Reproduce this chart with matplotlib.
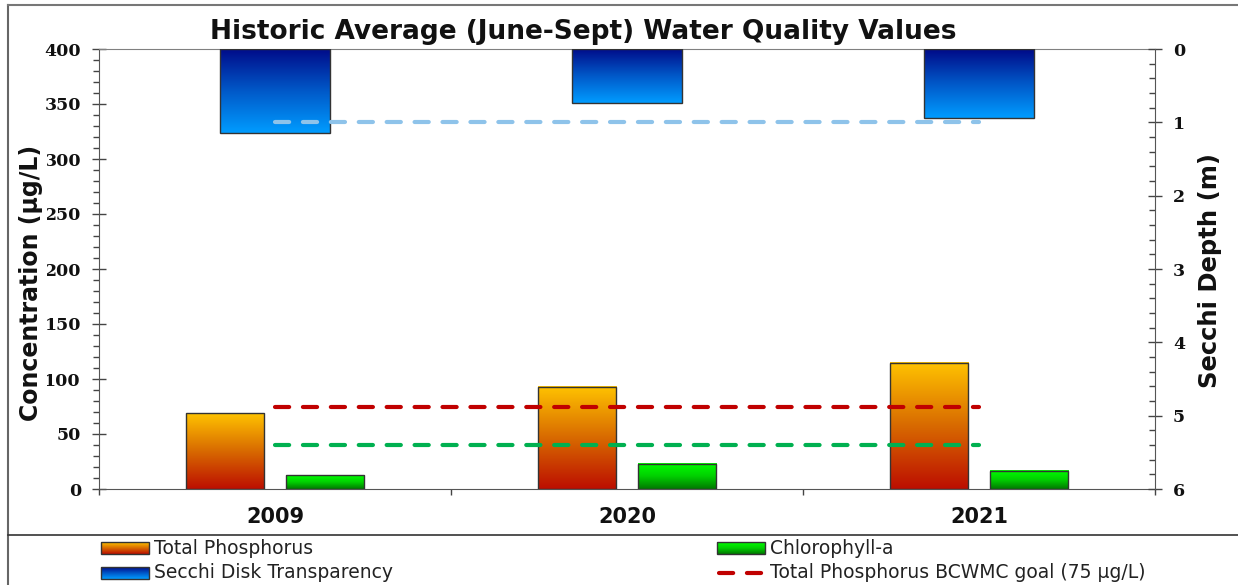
import numpy as np
import matplotlib
matplotlib.use('Agg')
import matplotlib.pyplot as plt
from matplotlib.colors import LinearSegmentedColormap
from matplotlib.lines import Line2D
from matplotlib.ticker import MultipleLocator, FixedLocator, NullFormatter

# data
years = ['2009', '2020', '2021']
total_phosphorus = [69, 93, 115]      # ug/L
chlorophyll = [12.7, 23, 16.5]        # ug/L
secchi = [1.15, 0.74, 0.94]           # m
tp_goal = 75
chl_goal = 40
secchi_goal = 1.0

title = 'Historic Average (June-Sept) Water Quality Values'
legend_labels = ['Total Phosphorus', 'Chlorophyll-a',
                 'Secchi Disk Transparency', 'Total Phosphorus BCWMC goal (75 \u00b5g/L)']

W, H = 1238, 585

tp_cmap = LinearSegmentedColormap.from_list('tp', ['#BC0E00', '#D86A00', '#FFC300'])
chl_cmap = LinearSegmentedColormap.from_list('chl', ['#007800', '#00D000', '#00FF00'])
sec_cmap = LinearSegmentedColormap.from_list('sec', ['#000A88', '#0058C8', '#009CFF'])
grad = np.linspace(0, 1, 256).reshape(-1, 1)


def gradient_bars(ax, bars, cmap):
    # fill each bar patch with a vertical gradient
    for b in bars:
        x0, w = b.get_x(), b.get_width()
        y0, h = b.get_y(), b.get_height()
        ax.imshow(grad, cmap=cmap, origin='lower', aspect='auto',
                  extent=[x0, x0 + w, y0, y0 + h], zorder=2, interpolation='bilinear')
        b.set_facecolor('none')


fig = plt.figure(figsize=(W / 100, H / 100), dpi=100)
ax = fig.add_axes([99 / W, 1 - 489 / H, (1155 - 99) / W, 440 / H])
ax2 = ax.twinx()

x = np.arange(len(years))
bw = 0.222
off = 0.142

tp_bars = ax.bar(x - off, total_phosphorus, bw, edgecolor='#333333', lw=1, zorder=3)
chl_bars = ax.bar(x + off, chlorophyll, bw, edgecolor='#333333', lw=1, zorder=3)
sec_bars = ax2.bar(x, secchi, 0.313, edgecolor='#333333', lw=1, zorder=3)
gradient_bars(ax, tp_bars, tp_cmap)
gradient_bars(ax, chl_bars, chl_cmap)
gradient_bars(ax2, sec_bars, sec_cmap)

dash = (0, (3.4, 3.3))
ax.plot([x[0], x[-1]], [tp_goal] * 2, color='#C00000', lw=3, ls=dash,
        dash_capstyle='round', zorder=4)
ax.plot([x[0], x[-1]], [chl_goal] * 2, color='#00B050', lw=3, ls=dash,
        dash_capstyle='round', zorder=4)
ax2.plot([x[0], x[-1]], [secchi_goal] * 2, color='#8EC3EA', lw=3, ls=dash,
         dash_capstyle='round', zorder=4)

ax.set_xlim(-0.5, 2.5)
ax.set_ylim(0, 400)
ax2.set_ylim(6, 0)

tick_font = dict(family='DejaVu Serif', weight='bold', size=12.5)
ax.yaxis.set_major_locator(MultipleLocator(50))
ax.yaxis.set_minor_locator(MultipleLocator(10))
ax.tick_params(axis='y', which='major', direction='inout', length=10, width=1,
               color='#444444', pad=8)
ax.tick_params(axis='y', which='minor', direction='out', length=4.5, width=1, color='#444444')
for t in ax.get_yticklabels():
    t.set_fontproperties(tick_font)
    t.set_color('#111111')

ax2.yaxis.set_major_locator(MultipleLocator(1))
ax2.yaxis.set_minor_locator(MultipleLocator(0.2))
ax2.tick_params(axis='y', which='major', direction='inout', length=10, width=1,
                color='#444444', pad=8)
ax2.tick_params(axis='y', which='minor', direction='in', length=4.5, width=1, color='#444444')
for t in ax2.get_yticklabels():
    t.set_fontproperties(tick_font)
    t.set_color('#111111')

ax.xaxis.set_major_locator(FixedLocator([-0.5, 0.5, 1.5, 2.5]))
ax.xaxis.set_major_formatter(NullFormatter())
ax.xaxis.set_minor_locator(FixedLocator(x))
ax.set_xticklabels(years, minor=True, fontsize=15, fontweight='bold')
ax.tick_params(axis='x', which='minor', length=0, pad=13, colors='#111111')
ax.tick_params(axis='x', which='major', direction='out', length=4.5, width=1, color='#444444')

for s in ['left', 'bottom']:
    ax.spines[s].set_color('#555555')
ax.spines['top'].set_color('#808080')
ax.spines['right'].set_visible(False)
ax2.spines['right'].set_color('#555555')
for s in ['left', 'top', 'bottom']:
    ax2.spines[s].set_visible(False)

fig.text(583 / W, 1 - 32 / H, title, ha='center', va='center', fontsize=19,
         fontweight='bold', color='#111111')
fig.text(31 / W, 1 - 283 / H, 'Concentration (\u00b5g/L)', rotation=90, ha='center',
         va='center', fontsize=17, fontweight='bold', color='#111111',
         bbox=dict(facecolor='white', edgecolor='none', pad=2.5))
fig.text(1210 / W, 1 - 270 / H, 'Secchi Depth (m)', rotation=90, ha='center',
         va='center', fontsize=17.5, fontweight='bold', color='#111111')

# frame lines
fig.add_artist(Line2D([8 / W, 8 / W], [0, 1 - 5 / H], transform=fig.transFigure,
                      color='#666666', lw=1.5))
fig.add_artist(Line2D([8 / W, 1], [1 - 5 / H] * 2, transform=fig.transFigure,
                      color='#777777', lw=1.5))
fig.add_artist(Line2D([8 / W, 1], [1 - 535 / H] * 2, transform=fig.transFigure,
                      color='#333333', lw=1.2))

# legend drawn in pixel-like coordinates
lax = fig.add_axes([0, 0, 1, 50 / H])
rows = [548, 573]
cols = [101, 717]
sw, sh = 48, 12
items = [(cols[0], rows[0], tp_cmap, False), (cols[1], rows[0], chl_cmap, False),
         (cols[0], rows[1], sec_cmap, True)]
for (cx, cy, cmap, flip) in items:
    b, t = (cy - sh / 2, cy + sh / 2) if flip else (cy + sh / 2, cy - sh / 2)
    lax.imshow(grad, cmap=cmap, origin='lower', aspect='auto',
               extent=[cx, cx + sw, b, t], interpolation='bilinear')
    lax.add_patch(plt.Rectangle((cx, cy - sh / 2), sw, sh, fill=False,
                                edgecolor='#333333', lw=1))
lax.plot([cols[1] + 2, cols[1] + sw - 2], [rows[1]] * 2, color='#C00000', lw=3,
         ls=dash, dash_capstyle='round')
for lab, (cx, cy) in zip(legend_labels, [(cols[0], rows[0]), (cols[1], rows[0]),
                                         (cols[0], rows[1]), (cols[1], rows[1])]):
    lax.text(cx + sw + 5, cy, lab, ha='left', va='center', fontsize=13.5, color='#222222')
lax.set_xlim(0, W)
lax.set_ylim(H, 535)
lax.axis('off')

fig.savefig('out.png', dpi=100)
